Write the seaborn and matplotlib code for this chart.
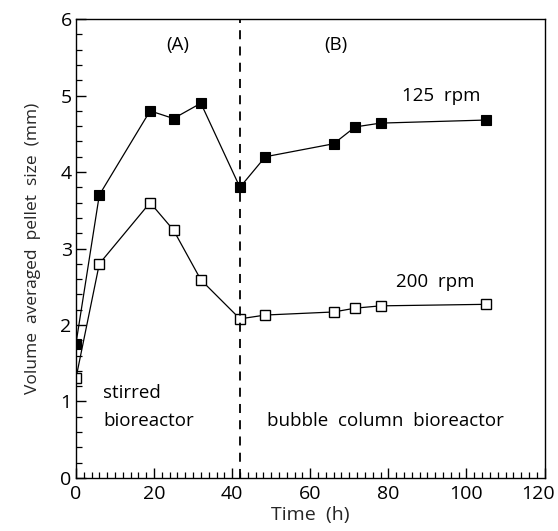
import matplotlib
matplotlib.use("Agg")
import matplotlib.pyplot as plt
import matplotlib.transforms as mtransforms
import seaborn as sns
import pandas as pd
from matplotlib.ticker import MultipleLocator

sns.set_theme(style="ticks")
plt.rcParams["font.family"] = ["Open Sans", "DejaVu Sans"]

# Sampling times (h)
time_h = [0, 6, 19, 25, 32, 42, 48.5, 66, 71.5, 78, 105]
# Volume averaged pellet size (mm)
size_125rpm = [1.75, 3.70, 4.80, 4.70, 4.90, 3.80, 4.20, 4.37, 4.59, 4.64, 4.68]
size_200rpm = [1.30, 2.80, 3.60, 3.24, 2.59, 2.08, 2.13, 2.17, 2.22, 2.25, 2.27]

switch_time = 42  # transfer from stirred to bubble column bioreactor

df125 = pd.DataFrame({"t": time_h, "d": size_125rpm})
df200 = pd.DataFrame({"t": time_h, "d": size_200rpm})

fig = plt.figure(figsize=(5.58, 5.31), dpi=100)
ax = fig.add_axes([0.136, 0.100, 0.840, 0.864])

sns.lineplot(data=df125, x="t", y="d", ax=ax, color="black", lw=0.9,
             marker="s", markersize=7.5, markerfacecolor="black",
             markeredgecolor="black", markeredgewidth=0.8)
sns.lineplot(data=df200, x="t", y="d", ax=ax, color="black", lw=0.9,
             marker="s", markersize=6.5, markerfacecolor="white",
             markeredgecolor="black", markeredgewidth=1.0)

ax.axvline(switch_time, color="black", lw=1.3, ls=(0, (5, 4)))

ax.set_xlim(0, 120)
ax.set_ylim(0, 6)
ax.xaxis.set_major_locator(MultipleLocator(20))
ax.xaxis.set_minor_locator(MultipleLocator(2))
ax.yaxis.set_major_locator(MultipleLocator(1))
ax.yaxis.set_minor_locator(MultipleLocator(0.2))
ax.tick_params(which="both", direction="in", top=False, right=False,
               labelsize=14, colors="black")
ax.tick_params(axis="x", pad=5)
ax.tick_params(axis="y", pad=3)
ax.tick_params(which="major", length=7, width=1.0)
ax.tick_params(which="minor", length=4, width=0.9)
for s in ax.spines.values():
    s.set_color("black")
    s.set_linewidth(1.0)

ax.set_xlabel("Time  (h)", fontsize=14, labelpad=2)
ax.set_ylabel("Volume  averaged  pellet  size  (mm)", fontsize=12.5, labelpad=14)

# nudge the outermost x tick label so it stays inside the figure
fig.canvas.draw()
for lab in ax.get_xticklabels():
    if lab.get_text() == "120":
        lab.set_transform(lab.get_transform() +
                          mtransforms.ScaledTranslation(-5 / 72, 0, fig.dpi_scale_trans))

txt = dict(fontsize=13.5, color="black")
ax.text(26, 5.66, "(A)", ha="center", va="center", **txt)
ax.text(66.5, 5.66, "(B)", ha="center", va="center", **txt)
ax.text(93.5, 5.0, "125  rpm", ha="center", va="center", **txt)
ax.text(92, 2.56, "200  rpm", ha="center", va="center", **txt)
ax.text(7, 1.11, "stirred", ha="left", va="center", **txt)
ax.text(7, 0.75, "bioreactor", ha="left", va="center", **txt)
ax.text(49, 0.74, "bubble  column  bioreactor", ha="left", va="center", **txt)

fig.savefig("out.png", dpi=100)
